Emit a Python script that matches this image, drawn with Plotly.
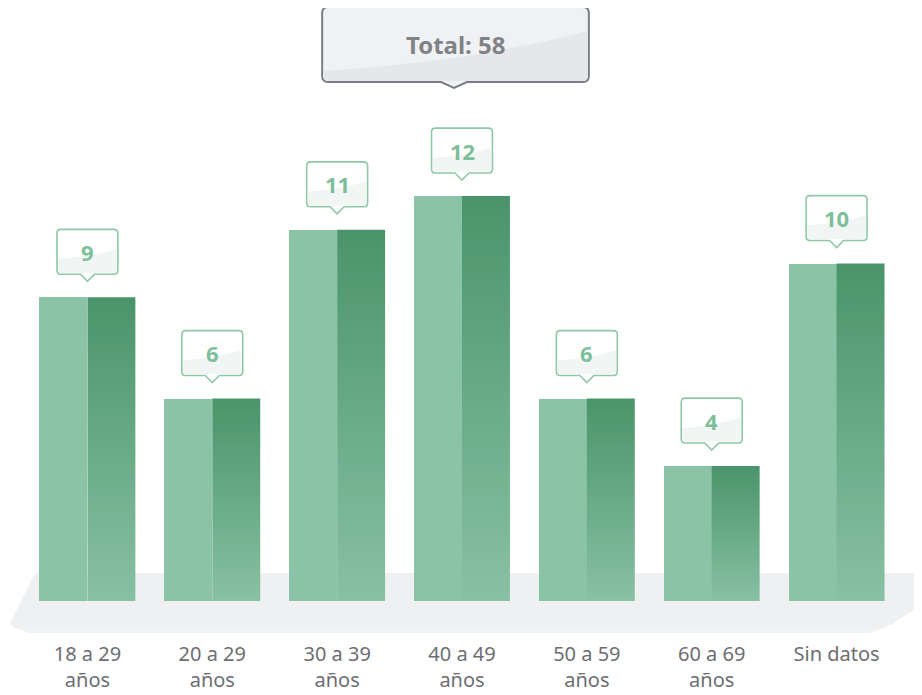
import plotly.graph_objects as go

categories = ["18 a 29<br>años", "20 a 29<br>años", "30 a 39<br>años", "40 a 49<br>años",
              "50 a 59<br>años", "60 a 69<br>años", "Sin datos"]
values = [9, 6, 11, 12, 6, 4, 10]
total_label = "Total: " + str(sum(values))

LIGHT = "#8AC3A5"
DARK = "#4A946B"
BORDER = "#8EC8A8"
NUM = "#7CBF9A"
FONT = "Noto Sans"

OFF = 8                      # page body margin
W, H = 922 - OFF, 695 - OFF  # figure size
# target plot area in window pixels: x 24.5..899.5, y 61..601
ML = 24.5 - OFF
MR = W - (899.5 - OFF)
MT = 61 - OFF
MB = H - (601 - OFF)
PW = W - ML - MR
PH = H - MT - MB
YMAX = 16.0
idx = list(range(len(values)))
half = 0.384


def px2paper(px, py):
    fx, fy = px - OFF, py - OFF
    return (fx - ML) / PW, (H - MB - fy) / PH


def P(px, py):
    x, y = px2paper(px, py)
    return f"{x:.5f},{y:.5f}"


def ppath(points):
    s = ""
    for k, (px, py) in enumerate(points):
        s += ("M" if k == 0 else "L") + P(px, py) + " "
    return s + "Z"


fig = go.Figure()

# left halves (solid)
fig.add_trace(go.Bar(x=idx, y=values, width=half, offset=-half,
                     marker=dict(color=LIGHT, line=dict(width=0)),
                     hoverinfo="skip", showlegend=False))

# right halves (vertical gradient)
for i, v in zip(idx, values):
    fig.add_trace(go.Scatter(
        x=[i, i + half, i + half, i, i], y=[0, 0, v, v, 0],
        mode="lines", line=dict(width=0), fill="toself",
        fillgradient=dict(type="vertical", colorscale=[[0, "#88C1A3"], [1, DARK]]),
        hoverinfo="skip", showlegend=False))

shapes = []

# floor
floor = [(37, 573), (960, 573), (960, 580), (893, 624), (884, 628), (14, 628), (9, 624), (33, 576)]
shapes.append(dict(type="path", xref="paper", yref="paper", path=ppath(floor),
                   fillcolor="#EFF0F2", line=dict(width=0), layer="below"))
shadow = [(14, 628), (884, 628), (870, 633), (28, 633)]
shapes.append(dict(type="path", xref="paper", yref="paper", path=ppath(shadow),
                   fillcolor="rgba(232,234,237,0.6)", line=dict(width=0), layer="below"))

# callouts above bars (data coords)
rx, ry = 0.032, 0.12
bw = 0.244
pw, ph = 0.056, 0.207
for i, v in zip(idx, values):
    y0 = v + 0.68
    y1 = v + 2.01
    xl, xr = i - bw, i + bw
    p = (f"M{xl+rx},{y1} L{xr-rx},{y1} Q{xr},{y1} {xr},{y1-ry} "
         f"L{xr},{y0+ry} Q{xr},{y0} {xr-rx},{y0} "
         f"L{i+pw},{y0} L{i},{y0-ph} L{i-pw},{y0} "
         f"L{xl+rx},{y0} Q{xl},{y0} {xl},{y0+ry} "
         f"L{xl},{y1-ry} Q{xl},{y1} {xl+rx},{y1} Z")
    shapes.append(dict(type="path", xref="x", yref="y", path=p,
                       fillcolor="white", line=dict(color=BORDER, width=1.6)))
    g = (f"M{xl+0.01},{y0+0.45} Q{i},{y0+0.5} {xr-0.01},{y0+0.75} "
         f"L{xr-0.01},{y0+ry} Q{xr-0.01},{y0+0.04} {xr-rx},{y0+0.04} "
         f"L{xl+rx},{y0+0.04} Q{xl+0.01},{y0+0.04} {xl+0.01},{y0+ry} Z")
    shapes.append(dict(type="path", xref="x", yref="y", path=g,
                       fillcolor="rgba(238,243,241,0.8)", line=dict(width=0)))

# total box
bx0, bx1, by0, by1 = 322, 589, 7, 82
r = 6
tipx, tipy = 454, 88
tp = (f"M{P(bx0+r, by0)} L{P(bx1-r, by0)} Q{P(bx1, by0)} {P(bx1, by0+r)} "
      f"L{P(bx1, by1-r)} Q{P(bx1, by1)} {P(bx1-r, by1)} "
      f"L{P(tipx+13, by1)} L{P(tipx, tipy)} L{P(tipx-13, by1)} "
      f"L{P(bx0+r, by1)} Q{P(bx0, by1)} {P(bx0, by1-r)} "
      f"L{P(bx0, by0+r)} Q{P(bx0, by0)} {P(bx0+r, by0)} Z")
shapes.append(dict(type="path", xref="paper", yref="paper", path=tp,
                   fillcolor="#F0F1F4", line=dict(color="#7B7E83", width=2)))
gl = (f"M{P(bx0+1, 71)} Q{P(470, 62)} {P(bx1-1, 31)} L{P(bx1-1, by1-r)} "
      f"Q{P(bx1-1, by1-1)} {P(bx1-r, by1-1)} L{P(bx0+r, by1-1)} "
      f"Q{P(bx0+1, by1-1)} {P(bx0+1, by1-r)} Z")
shapes.append(dict(type="path", xref="paper", yref="paper", path=gl,
                   fillcolor="#E5E7EB", line=dict(width=0)))

annotations = []
for i, v in zip(idx, values):
    annotations.append(dict(x=i, y=v + 1.345, xref="x", yref="y", text=f"<b>{v}</b>",
                            showarrow=False, font=dict(size=22, color=NUM, family=FONT),
                            xanchor="center", yanchor="middle"))
tx, ty = px2paper(456, 45)
annotations.append(dict(x=tx, y=ty, xref="paper", yref="paper", text=f"<b>{total_label}</b>",
                        showarrow=False, font=dict(size=24, color="#808285", family=FONT),
                        xanchor="center", yanchor="middle"))

fig.update_layout(
    width=W, height=H,
    margin=dict(l=ML, r=MR, t=MT, b=MB, pad=0, autoexpand=False),
    paper_bgcolor="white", plot_bgcolor="rgba(0,0,0,0)",
    shapes=shapes, annotations=annotations,
    bargap=0, barmode="overlay",
    showlegend=False,
    xaxis=dict(range=[-0.5, len(values) - 0.5], tickmode="array", tickvals=idx,
               ticktext=categories, showgrid=False, zeroline=False, showline=False,
               ticks="", ticklabelstandoff=39, automargin=False,
               tickfont=dict(size=20, color="#6D6E72", family=FONT)),
    yaxis=dict(range=[0, YMAX], visible=False, showgrid=False, zeroline=False,
               automargin=False),
)

fig.write_html("out.html")
